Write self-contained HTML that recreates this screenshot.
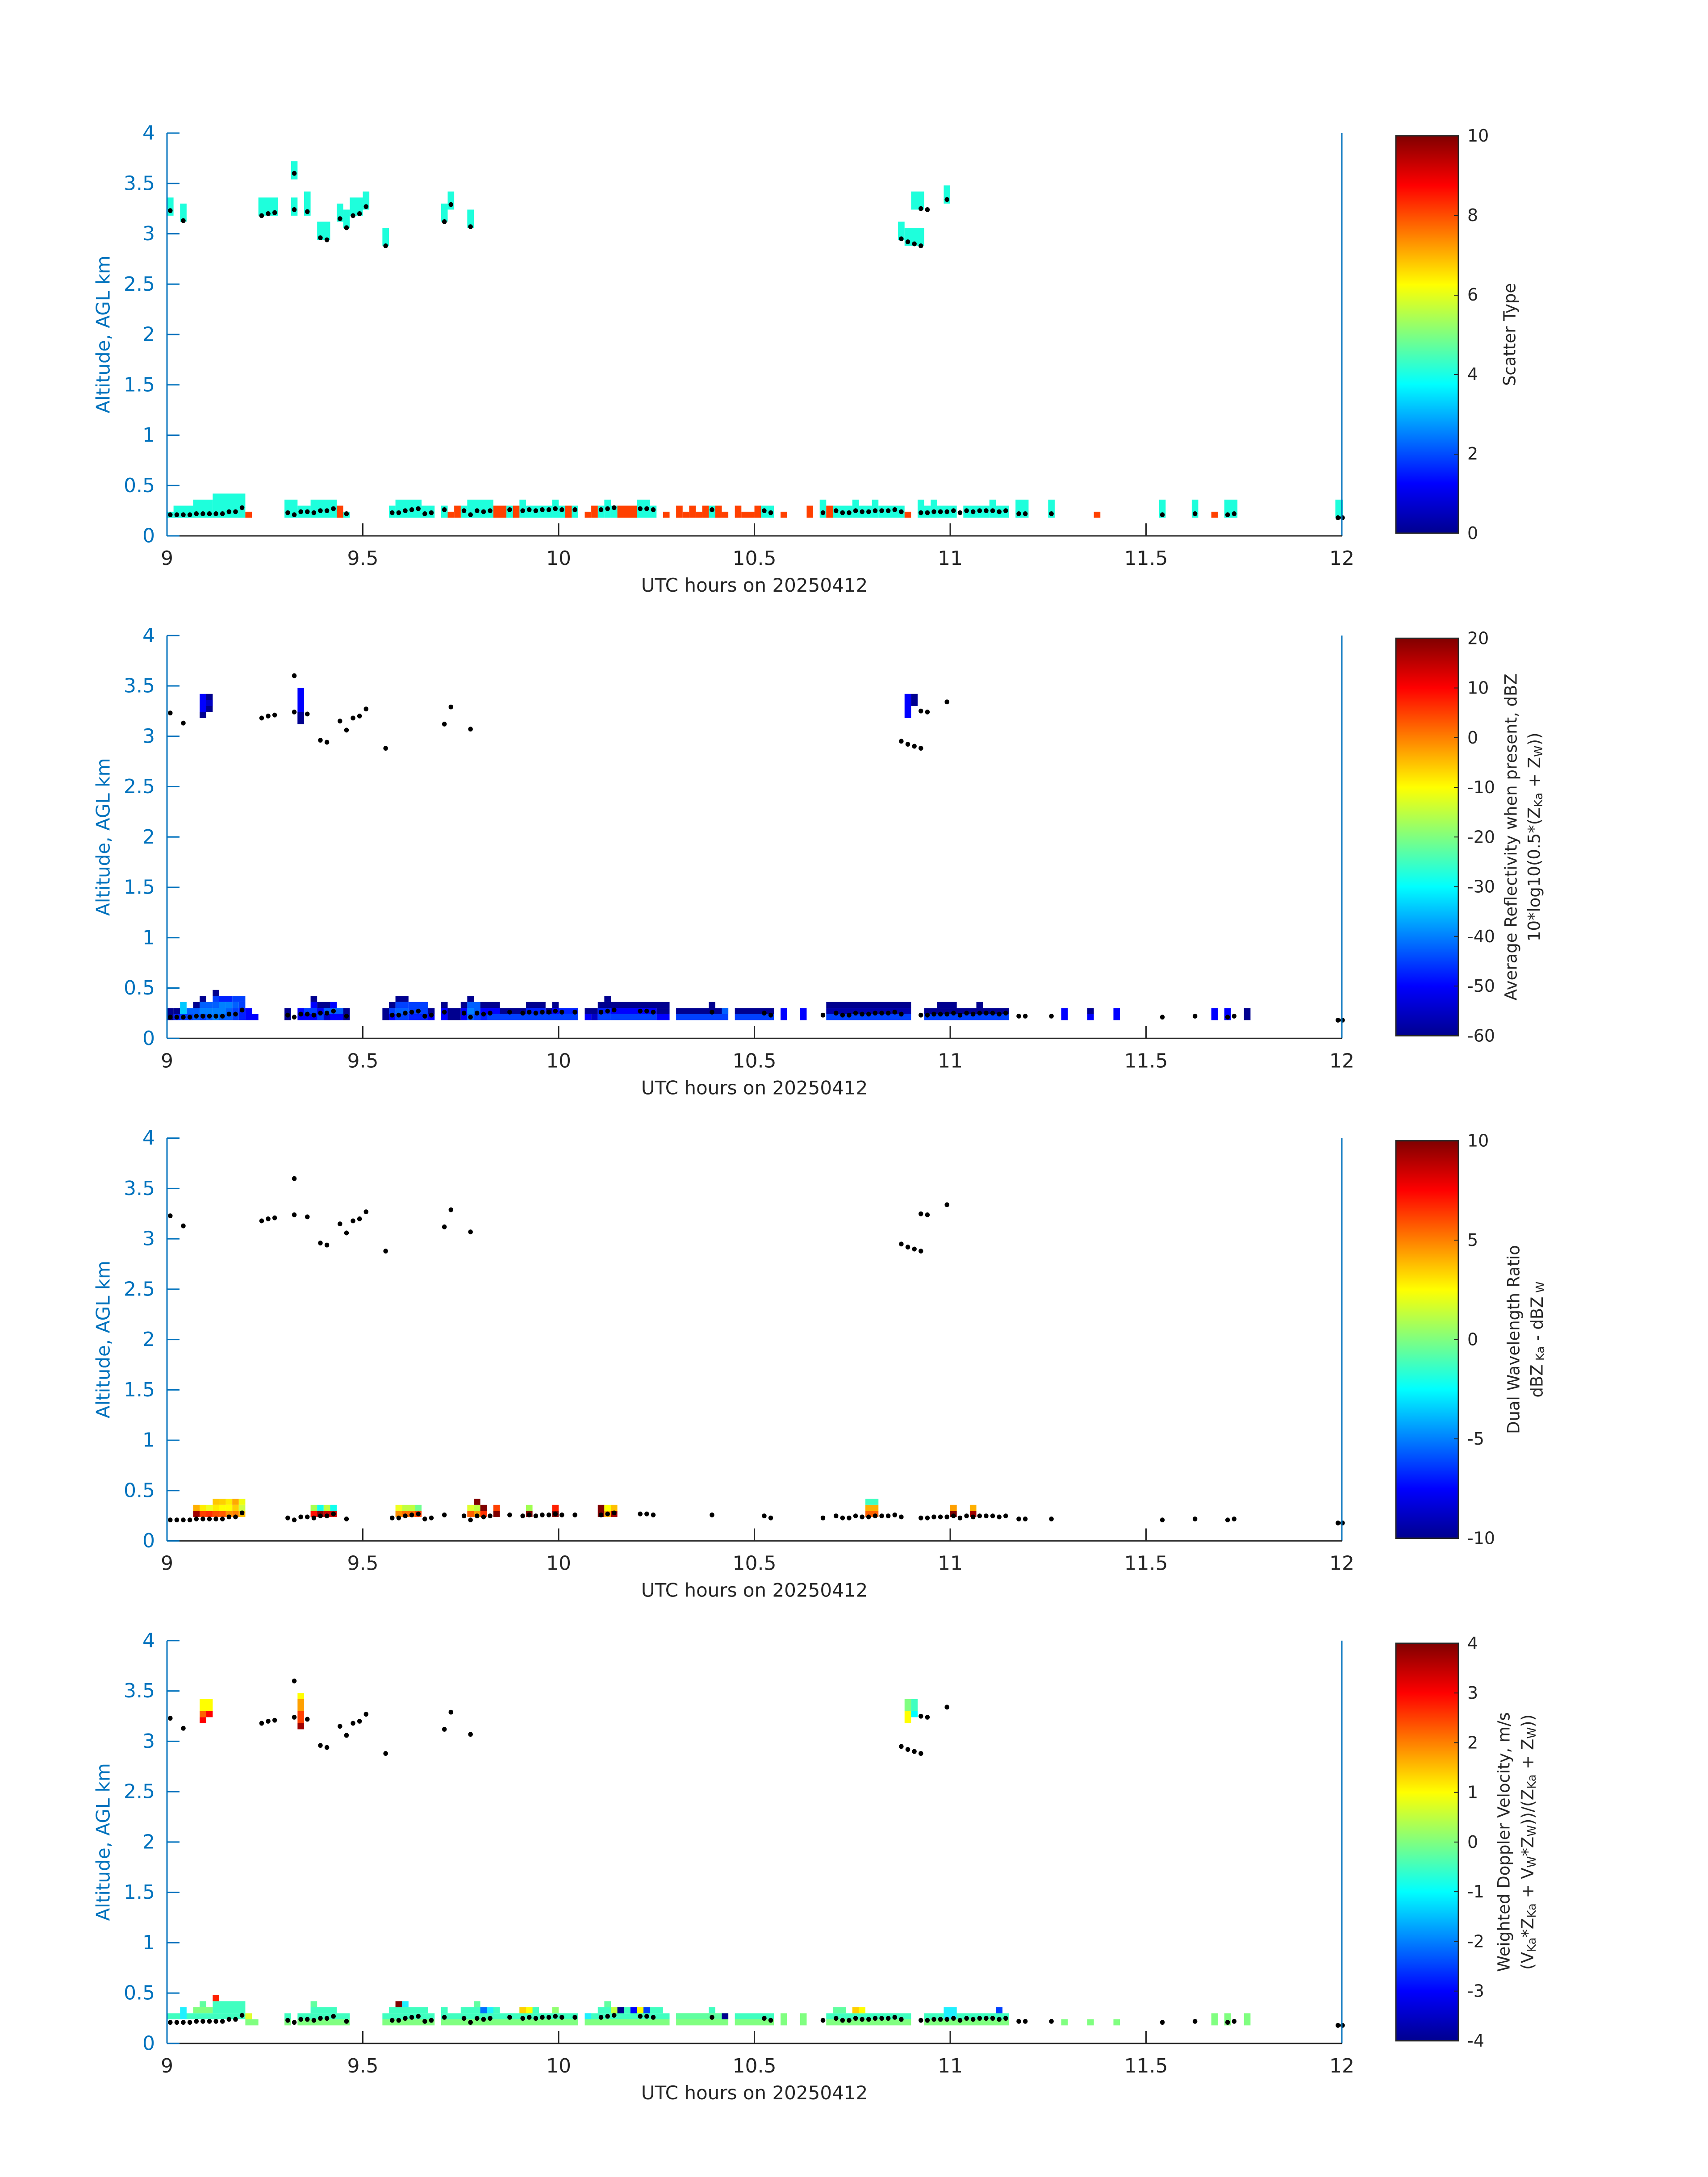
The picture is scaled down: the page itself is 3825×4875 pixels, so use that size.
<!DOCTYPE html>
<html><head><meta charset="utf-8"><style>
html,body{margin:0;padding:0;background:#fff}
svg{display:block}
text{font-family:"DejaVu Sans","Liberation Sans",sans-serif}
.yt{fill:#0072BD;font-size:44px;text-anchor:end;dominant-baseline:central}
.xt{fill:#262626;font-size:44px;text-anchor:middle}
.yl{fill:#0072BD;font-size:42px;text-anchor:middle}
.xl{fill:#262626;font-size:42px;text-anchor:middle}
.ct{fill:#262626;font-size:38px;dominant-baseline:central}
.cl{fill:#262626;font-size:37px;text-anchor:middle;dominant-baseline:central}
ellipse{rx:.36px}
</style></head><body>
<svg width="3825" height="4875" viewBox="0 0 3825 4875" xmlns="http://www.w3.org/2000/svg">
<defs>
<linearGradient id="jet" x1="0" y1="1" x2="0" y2="0">
<stop offset="0" stop-color="#00008f"/><stop offset="0.125" stop-color="#0000ff"/><stop offset="0.375" stop-color="#00ffff"/><stop offset="0.625" stop-color="#ffff00"/><stop offset="0.875" stop-color="#ff0000"/><stop offset="1" stop-color="#800000"/>
</linearGradient>
<g id="dots" fill="#000" transform="scale(1,1)">
<g id="dd">
<ellipse cx="0.5" cy="3.23" rx=".36" ry=".024"/><ellipse cx="2.5" cy="3.13" rx=".36" ry=".024"/><ellipse cx="14.5" cy="3.18" rx=".36" ry=".024"/><ellipse cx="15.5" cy="3.2" rx=".36" ry=".024"/><ellipse cx="16.5" cy="3.21" rx=".36" ry=".024"/><ellipse cx="19.5" cy="3.6" rx=".36" ry=".024"/><ellipse cx="19.5" cy="3.24" rx=".36" ry=".024"/><ellipse cx="21.5" cy="3.22" rx=".36" ry=".024"/><ellipse cx="23.5" cy="2.96" rx=".36" ry=".024"/><ellipse cx="24.5" cy="2.94" rx=".36" ry=".024"/><ellipse cx="26.5" cy="3.15" rx=".36" ry=".024"/><ellipse cx="27.5" cy="3.06" rx=".36" ry=".024"/><ellipse cx="28.5" cy="3.18" rx=".36" ry=".024"/><ellipse cx="29.5" cy="3.2" rx=".36" ry=".024"/><ellipse cx="30.5" cy="3.27" rx=".36" ry=".024"/><ellipse cx="33.5" cy="2.88" rx=".36" ry=".024"/><ellipse cx="42.5" cy="3.12" rx=".36" ry=".024"/><ellipse cx="43.5" cy="3.29" rx=".36" ry=".024"/><ellipse cx="46.5" cy="3.07" rx=".36" ry=".024"/>
<ellipse cx="112.5" cy="2.95" rx=".36" ry=".024"/><ellipse cx="113.5" cy="2.92" rx=".36" ry=".024"/><ellipse cx="114.5" cy="2.9" rx=".36" ry=".024"/><ellipse cx="115.5" cy="2.88" rx=".36" ry=".024"/><ellipse cx="115.5" cy="3.25" rx=".36" ry=".024"/><ellipse cx="116.5" cy="3.24" rx=".36" ry=".024"/><ellipse cx="119.5" cy="3.34" rx=".36" ry=".024"/>
<ellipse cx="0.5" cy=".21" rx=".36" ry=".024"/><ellipse cx="1.5" cy=".21" rx=".36" ry=".024"/><ellipse cx="2.5" cy=".21" rx=".36" ry=".024"/><ellipse cx="3.5" cy=".21" rx=".36" ry=".024"/><ellipse cx="4.5" cy=".22" rx=".36" ry=".024"/><ellipse cx="5.5" cy=".22" rx=".36" ry=".024"/><ellipse cx="6.5" cy=".22" rx=".36" ry=".024"/><ellipse cx="7.5" cy=".22" rx=".36" ry=".024"/><ellipse cx="8.5" cy=".22" rx=".36" ry=".024"/><ellipse cx="9.5" cy=".24" rx=".36" ry=".024"/><ellipse cx="10.5" cy=".24" rx=".36" ry=".024"/><ellipse cx="11.5" cy=".28" rx=".36" ry=".024"/>
<ellipse cx="18.5" cy=".23" rx=".36" ry=".024"/><ellipse cx="19.5" cy=".21" rx=".36" ry=".024"/><ellipse cx="20.5" cy=".24" rx=".36" ry=".024"/><ellipse cx="21.5" cy=".24" rx=".36" ry=".024"/><ellipse cx="22.5" cy=".23" rx=".36" ry=".024"/><ellipse cx="23.5" cy=".25" rx=".36" ry=".024"/><ellipse cx="24.5" cy=".25" rx=".36" ry=".024"/><ellipse cx="25.5" cy=".27" rx=".36" ry=".024"/><ellipse cx="27.5" cy=".22" rx=".36" ry=".024"/>
<ellipse cx="34.5" cy=".23" rx=".36" ry=".024"/><ellipse cx="35.5" cy=".23" rx=".36" ry=".024"/><ellipse cx="36.5" cy=".25" rx=".36" ry=".024"/><ellipse cx="37.5" cy=".26" rx=".36" ry=".024"/><ellipse cx="38.5" cy=".27" rx=".36" ry=".024"/><ellipse cx="39.5" cy=".22" rx=".36" ry=".024"/><ellipse cx="40.5" cy=".23" rx=".36" ry=".024"/>
<ellipse cx="42.5" cy=".26" rx=".36" ry=".024"/><ellipse cx="45.5" cy=".25" rx=".36" ry=".024"/><ellipse cx="46.5" cy=".21" rx=".36" ry=".024"/><ellipse cx="47.5" cy=".25" rx=".36" ry=".024"/><ellipse cx="48.5" cy=".24" rx=".36" ry=".024"/><ellipse cx="49.5" cy=".25" rx=".36" ry=".024"/><ellipse cx="52.5" cy=".26" rx=".36" ry=".024"/><ellipse cx="54.5" cy=".25" rx=".36" ry=".024"/><ellipse cx="55.5" cy=".26" rx=".36" ry=".024"/><ellipse cx="56.5" cy=".25" rx=".36" ry=".024"/><ellipse cx="57.5" cy=".26" rx=".36" ry=".024"/><ellipse cx="58.5" cy=".26" rx=".36" ry=".024"/><ellipse cx="59.5" cy=".27" rx=".36" ry=".024"/><ellipse cx="60.5" cy=".26" rx=".36" ry=".024"/><ellipse cx="62.5" cy=".26" rx=".36" ry=".024"/>
<ellipse cx="66.5" cy=".26" rx=".36" ry=".024"/><ellipse cx="67.5" cy=".27" rx=".36" ry=".024"/><ellipse cx="68.5" cy=".28" rx=".36" ry=".024"/><ellipse cx="72.5" cy=".27" rx=".36" ry=".024"/><ellipse cx="73.5" cy=".27" rx=".36" ry=".024"/><ellipse cx="74.5" cy=".26" rx=".36" ry=".024"/><ellipse cx="83.5" cy=".26" rx=".36" ry=".024"/><ellipse cx="91.5" cy=".25" rx=".36" ry=".024"/><ellipse cx="92.5" cy=".23" rx=".36" ry=".024"/>
<ellipse cx="100.5" cy=".23" rx=".36" ry=".024"/><ellipse cx="102.5" cy=".25" rx=".36" ry=".024"/><ellipse cx="103.5" cy=".23" rx=".36" ry=".024"/><ellipse cx="104.5" cy=".23" rx=".36" ry=".024"/><ellipse cx="105.5" cy=".25" rx=".36" ry=".024"/><ellipse cx="106.5" cy=".24" rx=".36" ry=".024"/><ellipse cx="107.5" cy=".24" rx=".36" ry=".024"/><ellipse cx="108.5" cy=".25" rx=".36" ry=".024"/><ellipse cx="109.5" cy=".25" rx=".36" ry=".024"/><ellipse cx="110.5" cy=".25" rx=".36" ry=".024"/><ellipse cx="111.5" cy=".26" rx=".36" ry=".024"/><ellipse cx="112.5" cy=".24" rx=".36" ry=".024"/>
<ellipse cx="115.5" cy=".23" rx=".36" ry=".024"/><ellipse cx="116.5" cy=".23" rx=".36" ry=".024"/><ellipse cx="117.5" cy=".24" rx=".36" ry=".024"/><ellipse cx="118.5" cy=".24" rx=".36" ry=".024"/><ellipse cx="119.5" cy=".24" rx=".36" ry=".024"/><ellipse cx="120.5" cy=".25" rx=".36" ry=".024"/><ellipse cx="121.5" cy=".23" rx=".36" ry=".024"/><ellipse cx="122.5" cy=".25" rx=".36" ry=".024"/><ellipse cx="123.5" cy=".24" rx=".36" ry=".024"/><ellipse cx="124.5" cy=".25" rx=".36" ry=".024"/><ellipse cx="125.5" cy=".25" rx=".36" ry=".024"/><ellipse cx="126.5" cy=".25" rx=".36" ry=".024"/><ellipse cx="127.5" cy=".24" rx=".36" ry=".024"/><ellipse cx="128.5" cy=".25" rx=".36" ry=".024"/>
<ellipse cx="130.5" cy=".22" rx=".36" ry=".024"/><ellipse cx="131.5" cy=".22" rx=".36" ry=".024"/><ellipse cx="135.5" cy=".22" rx=".36" ry=".024"/><ellipse cx="152.5" cy=".21" rx=".36" ry=".024"/><ellipse cx="157.5" cy=".22" rx=".36" ry=".024"/><ellipse cx="162.5" cy=".21" rx=".36" ry=".024"/><ellipse cx="163.5" cy=".22" rx=".36" ry=".024"/><ellipse cx="179.4" cy=".18" rx=".36" ry=".024"/><ellipse cx="180.1" cy=".18" rx=".36" ry=".024"/>
</g>
</g>
<g id="frame">
<line x1="374" y1="0" x2="374" y2="902" stroke="#0072BD" stroke-width="3"/>
<line x1="3005" y1="0" x2="3005" y2="902" stroke="#0072BD" stroke-width="3"/>
<line x1="374" y1="902" x2="3005" y2="902" stroke="#262626" stroke-width="3"/>
<g stroke="#0072BD" stroke-width="3">
<line x1="374" y1="0" x2="402" y2="0"/><line x1="374" y1="112.75" x2="402" y2="112.75"/><line x1="374" y1="225.5" x2="402" y2="225.5"/><line x1="374" y1="338.25" x2="402" y2="338.25"/><line x1="374" y1="451" x2="402" y2="451"/><line x1="374" y1="563.75" x2="402" y2="563.75"/><line x1="374" y1="676.5" x2="402" y2="676.5"/><line x1="374" y1="789.25" x2="402" y2="789.25"/><line x1="374" y1="902" x2="402" y2="902"/>
</g>
<g stroke="#262626" stroke-width="3">
<line x1="812.5" y1="902" x2="812.5" y2="874"/><line x1="1251" y1="902" x2="1251" y2="874"/><line x1="1689.5" y1="902" x2="1689.5" y2="874"/><line x1="2128" y1="902" x2="2128" y2="874"/><line x1="2566.5" y1="902" x2="2566.5" y2="874"/>
</g>
<text class="yt" x="347" y="0">4</text><text class="yt" x="347" y="112.75">3.5</text><text class="yt" x="347" y="225.5">3</text><text class="yt" x="347" y="338.25">2.5</text><text class="yt" x="347" y="451">2</text><text class="yt" x="347" y="563.75">1.5</text><text class="yt" x="347" y="676.5">1</text><text class="yt" x="347" y="789.25">0.5</text><text class="yt" x="347" y="902">0</text>
<text class="xt" x="374" y="967">9</text><text class="xt" x="812.5" y="967">9.5</text><text class="xt" x="1251" y="967">10</text><text class="xt" x="1689.5" y="967">10.5</text><text class="xt" x="2128" y="967">11</text><text class="xt" x="2566.5" y="967">11.5</text><text class="xt" x="3005" y="967">12</text>
<text class="xl" x="1689.5" y="1027">UTC hours on 20250412</text>
<text class="yl" transform="translate(231,451) rotate(-90)" dominant-baseline="central">Altitude, AGL km</text>
<rect x="3126" y="6" width="140" height="890" fill="url(#jet)" stroke="#262626" stroke-width="3"/>
</g>
</defs>

<!-- ============ PANEL 1 ============ -->
<g transform="translate(374,1200) scale(14.617,-225.5)">
<g fill="#1effdc">
<rect x="0" y="3.18" width="1" height=".18"/><rect x="2" y="3.12" width="1" height=".18"/><rect x="14" y="3.18" width="3" height=".18"/><rect x="19" y="3.54" width="1" height=".18"/><rect x="19" y="3.18" width="1" height=".18"/><rect x="21" y="3.18" width="1" height=".24"/><rect x="23" y="2.94" width="2" height=".18"/><rect x="26" y="3.12" width="1" height=".18"/><rect x="27" y="3.06" width="1" height=".18"/><rect x="28" y="3.18" width="2" height=".18"/><rect x="30" y="3.24" width="1" height=".18"/><rect x="33" y="2.88" width="1" height=".18"/><rect x="42" y="3.12" width="1" height=".18"/><rect x="43" y="3.24" width="1" height=".18"/><rect x="46" y="3.06" width="1" height=".18"/>
<rect x="112" y="2.94" width="1" height=".18"/><rect x="113" y="2.88" width="3" height=".18"/><rect x="114" y="3.24" width="2" height=".18"/><rect x="119" y="3.3" width="1" height=".18"/>
<rect x="0" y=".18" width="1" height=".06"/><rect x="1" y=".18" width="3" height=".12"/><rect x="4" y=".18" width="3" height=".18"/><rect x="7" y=".18" width="5" height=".24"/>
<rect x="18" y=".18" width="2" height=".18"/><rect x="20" y=".18" width="2" height=".12"/><rect x="22" y=".18" width="4" height=".18"/><rect x="27" y=".18" width="1" height=".06"/>
<rect x="34" y=".18" width="1" height=".12"/><rect x="35" y=".18" width="4" height=".18"/><rect x="39" y=".18" width="2" height=".12"/>
<rect x="42" y=".18" width="1" height=".12"/><rect x="45" y=".18" width="1" height=".12"/><rect x="46" y=".18" width="4" height=".18"/><rect x="52" y=".18" width="1" height=".12"/><rect x="54" y=".18" width="1" height=".18"/><rect x="55" y=".18" width="4" height=".12"/><rect x="59" y=".18" width="1" height=".18"/><rect x="60" y=".18" width="1" height=".12"/><rect x="62" y=".18" width="1" height=".12"/>
<rect x="66" y=".18" width="1" height=".12"/><rect x="67" y=".18" width="1" height=".18"/><rect x="68" y=".18" width="1" height=".12"/><rect x="72" y=".18" width="2" height=".18"/><rect x="74" y=".18" width="1" height=".12"/><rect x="83" y=".18" width="1" height=".12"/><rect x="91" y=".18" width="2" height=".12"/>
<rect x="100" y=".18" width="1" height=".18"/><rect x="102" y=".18" width="3" height=".12"/><rect x="105" y=".18" width="1" height=".18"/><rect x="106" y=".18" width="2" height=".12"/><rect x="108" y=".18" width="1" height=".18"/><rect x="109" y=".18" width="4" height=".12"/>
<rect x="115" y=".18" width="1" height=".18"/><rect x="116" y=".18" width="1" height=".12"/><rect x="117" y=".18" width="1" height=".18"/><rect x="118" y=".18" width="3" height=".12"/><rect x="122" y=".18" width="4" height=".12"/><rect x="126" y=".18" width="1" height=".18"/><rect x="127" y=".18" width="2" height=".12"/><rect x="130" y=".18" width="2" height=".18"/><rect x="135" y=".18" width="1" height=".18"/><rect x="152" y=".18" width="1" height=".18"/><rect x="157" y=".18" width="1" height=".18"/><rect x="162" y=".18" width="2" height=".18"/><rect x="179" y=".18" width="1.2" height=".18"/>
</g>
<g fill="#ff4000">
<rect x="12" y=".18" width="1" height=".06"/><rect x="26" y=".18" width="1" height=".12"/><rect x="43" y=".18" width="1" height=".06"/><rect x="44" y=".18" width="1" height=".12"/><rect x="50" y=".18" width="2" height=".12"/><rect x="53" y=".18" width="1" height=".12"/><rect x="61" y=".18" width="1" height=".12"/><rect x="64" y=".18" width="1" height=".06"/><rect x="65" y=".18" width="1" height=".12"/><rect x="69" y=".18" width="3" height=".12"/><rect x="76" y=".18" width="1" height=".06"/><rect x="78" y=".18" width="1" height=".12"/><rect x="79" y=".18" width="1" height=".06"/><rect x="80" y=".18" width="1" height=".12"/><rect x="81" y=".18" width="1" height=".06"/><rect x="82" y=".18" width="1" height=".12"/><rect x="84" y=".18" width="1" height=".12"/><rect x="85" y=".18" width="1" height=".06"/><rect x="87" y=".18" width="1" height=".12"/><rect x="88" y=".18" width="2" height=".06"/><rect x="90" y=".18" width="1" height=".12"/><rect x="94" y=".18" width="1" height=".06"/><rect x="98" y=".18" width="1" height=".12"/><rect x="101" y=".18" width="1" height=".12"/><rect x="113" y=".18" width="1" height=".06"/><rect x="142" y=".18" width="1" height=".06"/><rect x="160" y=".18" width="1" height=".06"/>
</g>
<use href="#dots"/>
</g>
<g transform="translate(0,298)"><use href="#frame"/>
<g stroke="#262626" stroke-width="2"><line x1="3256" y1="185" x2="3266" y2="185"/><line x1="3256" y1="363" x2="3266" y2="363"/><line x1="3256" y1="541" x2="3266" y2="541"/><line x1="3256" y1="719" x2="3266" y2="719"/></g>
<text class="ct" x="3286" y="6">10</text><text class="ct" x="3286" y="184">8</text><text class="ct" x="3286" y="362">6</text><text class="ct" x="3286" y="540">4</text><text class="ct" x="3286" y="718">2</text><text class="ct" x="3286" y="896">0</text>
<text class="cl" transform="translate(3381,451) rotate(-90)">Scatter Type</text>
</g>

<!-- ============ PANEL 2 ============ -->
<g transform="translate(374,2325) scale(14.617,-225.5)">
<g fill="#0000ff"><rect x="5" y="3.18" width="1" height=".24"/><rect x="20" y="3.12" width="1" height=".36"/><rect x="113" y="3.18" width="1" height=".24"/></g>
<g fill="#00008f"><rect x="5" y="3.18" width="1" height=".06"/><rect x="6" y="3.24" width="1" height=".18"/><rect x="20" y="3.12" width="1" height=".12"/><rect x="114" y="3.3" width="1" height=".12"/></g>
<rect x="6" y="3.3" width="1" height=".06" fill="#0000c8"/>
<g fill="#00008f"><rect x="0" y=".18" width="1" height=".12"/><rect x="1" y=".24" width="1" height=".06"/><rect x="4" y=".30" width="1" height=".06"/><rect x="5" y=".36" width="1" height=".06"/><rect x="7" y=".42" width="1" height=".06"/><rect x="18" y=".18" width="1" height=".12"/><rect x="22" y=".36" width="1" height=".06"/><rect x="23" y=".30" width="2" height=".06"/><rect x="27" y=".18" width="1" height=".12"/><rect x="33" y=".18" width="1" height=".12"/><rect x="34" y=".30" width="1" height=".06"/><rect x="35" y=".36" width="2" height=".06"/><rect x="40" y=".24" width="1" height=".06"/><rect x="42" y=".30" width="1" height=".06"/><rect x="43" y=".18" width="2" height=".12"/><rect x="45" y=".30" width="1" height=".06"/><rect x="46" y=".36" width="1" height=".06"/><rect x="48" y=".30" width="3" height=".06"/><rect x="51" y=".24" width="4" height=".06"/><rect x="55" y=".30" width="3" height=".06"/><rect x="58" y=".24" width="1" height=".06"/><rect x="59" y=".30" width="1" height=".06"/><rect x="64" y=".24" width="2" height=".06"/><rect x="66" y=".30" width="11" height=".06"/><rect x="67" y=".36" width="1" height=".06"/><rect x="75" y=".24" width="2" height=".06"/><rect x="78" y=".24" width="8" height=".06"/><rect x="83" y=".30" width="1" height=".06"/><rect x="87" y=".24" width="6" height=".06"/><rect x="101" y=".30" width="13" height=".06"/><rect x="116" y=".24" width="13" height=".06"/><rect x="118" y=".30" width="3" height=".06"/><rect x="124" y=".30" width="1" height=".06"/><rect x="165" y=".18" width="1" height=".12"/><rect x="141" y=".24" width="1" height=".06"/></g>
<g fill="#0000ff"><rect x="12" y=".18" width="1" height=".12"/><rect x="13" y=".18" width="1" height=".06"/><rect x="20" y=".18" width="6" height=".12"/><rect x="22" y=".30" width="1" height=".06"/><rect x="25" y=".30" width="1" height=".06"/><rect x="26" y=".18" width="1" height=".12"/><rect x="34" y=".18" width="1" height=".06"/><rect x="40" y=".18" width="1" height=".06"/><rect x="42" y=".18" width="1" height=".12"/><rect x="45" y=".18" width="1" height=".12"/><rect x="48" y=".24" width="3" height=".06"/><rect x="59" y=".24" width="1" height=".06"/><rect x="64" y=".18" width="1" height=".06"/><rect x="68" y=".24" width="7" height=".06"/><rect x="75" y=".18" width="2" height=".06"/><rect x="94" y=".18" width="1" height=".12"/><rect x="97" y=".18" width="1" height=".12"/><rect x="137" y=".18" width="1" height=".12"/><rect x="141" y=".18" width="1" height=".06"/><rect x="145" y=".18" width="1" height=".12"/><rect x="160" y=".18" width="1" height=".12"/><rect x="162" y=".18" width="1" height=".12"/></g>
<rect x="101" y=".24" width="13" height=".06" fill="#0000a8"/>
<g fill="#0000c8"><rect x="65" y=".18" width="1" height=".06"/><rect x="24" y=".18" width="1" height=".06"/></g>
<g fill="#0020ff"><rect x="1" y=".18" width="1" height=".06"/><rect x="11" y=".18" width="1" height=".12"/><rect x="8" y=".36" width="2" height=".06"/><rect x="37" y=".18" width="3" height=".06"/><rect x="48" y=".18" width="1" height=".06"/><rect x="55" y=".24" width="3" height=".06"/><rect x="60" y=".24" width="3" height=".06"/><rect x="66" y=".24" width="2" height=".06"/></g>
<g fill="#0040ff"><rect x="2" y=".18" width="2" height=".06"/><rect x="5" y=".18" width="1" height=".06"/><rect x="10" y=".18" width="1" height=".12"/><rect x="10" y=".36" width="2" height=".06"/><rect x="11" y=".30" width="1" height=".06"/><rect x="7" y=".36" width="1" height=".06"/><rect x="21" y=".24" width="2" height=".06"/><rect x="23" y=".18" width="1" height=".06"/><rect x="34" y=".24" width="1" height=".06"/><rect x="35" y=".18" width="2" height=".06"/><rect x="35" y=".30" width="2" height=".06"/><rect x="37" y=".24" width="3" height=".12"/><rect x="47" y=".18" width="1" height=".06"/><rect x="49" y=".18" width="14" height=".06"/><rect x="66" y=".18" width="2" height=".06"/><rect x="68" y=".18" width="7" height=".06"/><rect x="78" y=".18" width="8" height=".06"/><rect x="87" y=".18" width="6" height=".06"/><rect x="101" y=".18" width="13" height=".06"/><rect x="116" y=".18" width="13" height=".06"/></g>
<g fill="#0060ff"><rect x="3" y=".24" width="1" height=".06"/><rect x="4" y=".18" width="1" height=".12"/><rect x="6" y=".18" width="1" height=".06"/><rect x="6" y=".30" width="1" height=".06"/><rect x="5" y=".30" width="1" height=".06"/><rect x="7" y=".30" width="1" height=".06"/><rect x="8" y=".18" width="2" height=".06"/><rect x="9" y=".24" width="1" height=".06"/><rect x="10" y=".30" width="1" height=".06"/><rect x="24" y=".24" width="2" height=".06"/><rect x="26" y=".24" width="1" height=".06"/><rect x="35" y=".24" width="2" height=".06"/><rect x="46" y=".18" width="1" height=".06"/><rect x="46" y=".30" width="1" height=".06"/><rect x="47" y=".24" width="1" height=".12"/><rect x="85" y=".24" width="1" height=".06"/></g>
<g fill="#0080ff"><rect x="5" y=".24" width="1" height=".06"/><rect x="6" y=".24" width="1" height=".06"/><rect x="7" y=".18" width="1" height=".12"/><rect x="8" y=".24" width="1" height=".12"/><rect x="9" y=".30" width="1" height=".06"/><rect x="46" y=".24" width="1" height=".06"/></g>
<rect x="2" y=".24" width="1" height=".12" fill="#00c8ff"/>
<use href="#dots"/>
</g>
<g transform="translate(0,1423.3)"><use href="#frame"/>
<g stroke="#262626" stroke-width="2"><line x1="3256" y1="117.25" x2="3266" y2="117.25"/><line x1="3256" y1="228.5" x2="3266" y2="228.5"/><line x1="3256" y1="339.75" x2="3266" y2="339.75"/><line x1="3256" y1="451" x2="3266" y2="451"/><line x1="3256" y1="562.25" x2="3266" y2="562.25"/><line x1="3256" y1="673.5" x2="3266" y2="673.5"/><line x1="3256" y1="784.75" x2="3266" y2="784.75"/></g>
<text class="ct" x="3286" y="6">20</text><text class="ct" x="3286" y="117.25">10</text><text class="ct" x="3286" y="228.5">0</text><text class="ct" x="3286" y="339.75">-10</text><text class="ct" x="3286" y="451">-20</text><text class="ct" x="3286" y="562.25">-30</text><text class="ct" x="3286" y="673.5">-40</text><text class="ct" x="3286" y="784.75">-50</text><text class="ct" x="3286" y="896">-60</text>
<text class="cl" transform="translate(3384,451) rotate(-90)">Average Reflectivity when present, dBZ</text>
<text class="cl" transform="translate(3436,451) rotate(-90)">10*log10(0.5*(Z<tspan font-size="26" dy="10">Ka</tspan><tspan dy="-10"> + Z</tspan><tspan font-size="26" dy="10">W</tspan><tspan dy="-10">))</tspan></text>
</g>

<!-- ============ PANEL 3 ============ -->
<g transform="translate(374,3451) scale(14.617,-225.5)">
<rect x="4" y=".24" width="1" height=".06" fill="#a00000"/><rect x="4" y=".30" width="1" height=".06" fill="#ffb000"/>
<rect x="5" y=".24" width="1" height=".06" fill="#ff4000"/><rect x="5" y=".30" width="1" height=".06" fill="#ffee00"/>
<rect x="6" y=".24" width="1" height=".06" fill="#ff3000"/><rect x="6" y=".30" width="1" height=".06" fill="#f0ff20"/>
<rect x="7" y=".24" width="1" height=".06" fill="#ff5000"/><rect x="7" y=".30" width="1" height=".06" fill="#ffee00"/><rect x="7" y=".36" width="1" height=".06" fill="#ffc800"/>
<rect x="8" y=".24" width="1" height=".06" fill="#ff5a00"/><rect x="8" y=".30" width="1" height=".06" fill="#ffff00"/><rect x="8" y=".36" width="1" height=".06" fill="#ffd000"/>
<rect x="9" y=".24" width="1" height=".06" fill="#ff9000"/><rect x="9" y=".30" width="1" height=".06" fill="#ffff00"/><rect x="9" y=".36" width="1" height=".06" fill="#ffee00"/>
<rect x="10" y=".24" width="1" height=".06" fill="#ff8000"/><rect x="10" y=".30" width="1" height=".06" fill="#ffd000"/><rect x="10" y=".36" width="1" height=".06" fill="#ffaa00"/>
<rect x="11" y=".24" width="1" height=".06" fill="#ffc000"/><rect x="11" y=".30" width="1" height=".06" fill="#d0ff40"/><rect x="11" y=".36" width="1" height=".06" fill="#eeff10"/>
<rect x="22" y=".24" width="1" height=".06" fill="#ff1000"/><rect x="22" y=".30" width="1" height=".06" fill="#a8ff50"/>
<rect x="23" y=".24" width="1" height=".06" fill="#900000"/><rect x="23" y=".30" width="1" height=".06" fill="#10ffee"/>
<rect x="24" y=".24" width="1" height=".06" fill="#d00000"/><rect x="24" y=".30" width="1" height=".06" fill="#c0ff40"/>
<rect x="25" y=".24" width="1" height=".06" fill="#d00000"/><rect x="25" y=".30" width="1" height=".06" fill="#10ffee"/>
<rect x="35" y=".24" width="1" height=".06" fill="#ff9000"/><rect x="35" y=".30" width="1" height=".06" fill="#f0ff20"/>
<rect x="36" y=".24" width="2" height=".06" fill="#ff7000"/><rect x="36" y=".30" width="2" height=".06" fill="#c0ff40"/>
<rect x="38" y=".24" width="1" height=".06" fill="#ff4000"/><rect x="38" y=".30" width="1" height=".06" fill="#70ff90"/>
<rect x="46" y=".24" width="1" height=".06" fill="#ff6000"/><rect x="46" y=".30" width="1" height=".06" fill="#e0ff30"/>
<rect x="47" y=".24" width="1" height=".06" fill="#ffa000"/><rect x="47" y=".30" width="1" height=".06" fill="#c0ff40"/><rect x="47" y=".36" width="1" height=".06" fill="#800000"/>
<rect x="48" y=".24" width="1" height=".06" fill="#ff3000"/><rect x="48" y=".30" width="1" height=".06" fill="#800000"/>
<rect x="50" y=".24" width="1" height=".06" fill="#800000"/><rect x="50" y=".30" width="1" height=".06" fill="#ff4000"/>
<rect x="55" y=".24" width="1" height=".06" fill="#800000"/><rect x="55" y=".30" width="1" height=".06" fill="#a0ff50"/>
<rect x="59" y=".24" width="1" height=".06" fill="#800000"/><rect x="59" y=".30" width="1" height=".06" fill="#ff2000"/>
<rect x="66" y=".24" width="1" height=".12" fill="#800000"/>
<rect x="67" y=".24" width="1" height=".06" fill="#ffb000"/><rect x="67" y=".30" width="1" height=".06" fill="#ffff00"/>
<rect x="68" y=".24" width="1" height=".06" fill="#a00000"/><rect x="68" y=".30" width="1" height=".06" fill="#ffc000"/>
<rect x="107" y=".24" width="2" height=".06" fill="#ff6000"/><rect x="107" y=".30" width="2" height=".06" fill="#ffb000"/><rect x="107" y=".36" width="2" height=".06" fill="#40ffc0"/>
<rect x="120" y=".24" width="1" height=".06" fill="#800000"/><rect x="120" y=".30" width="1" height=".06" fill="#ffa000"/>
<rect x="123" y=".24" width="1" height=".06" fill="#a00000"/><rect x="123" y=".30" width="1" height=".06" fill="#ffb000"/>
<use href="#dots"/>
</g>
<g transform="translate(0,2548.6)"><use href="#frame"/>
<g stroke="#262626" stroke-width="2"><line x1="3256" y1="228.5" x2="3266" y2="228.5"/><line x1="3256" y1="451" x2="3266" y2="451"/><line x1="3256" y1="673.5" x2="3266" y2="673.5"/></g>
<text class="ct" x="3286" y="6">10</text><text class="ct" x="3286" y="228.5">5</text><text class="ct" x="3286" y="451">0</text><text class="ct" x="3286" y="673.5">-5</text><text class="ct" x="3286" y="896">-10</text>
<text class="cl" transform="translate(3390,451) rotate(-90)">Dual Wavelength Ratio</text>
<text class="cl" transform="translate(3442,451) rotate(-90)">dBZ<tspan font-size="26" dy="8"> Ka</tspan><tspan dy="-8"> - dBZ</tspan><tspan font-size="26" dy="8"> W</tspan></text>
</g>

<!-- ============ PANEL 4 ============ -->
<g transform="translate(374,4576) scale(14.617,-225.5)">
<rect x="5" y="3.30" width="2" height=".12" fill="#ffff00"/><rect x="5" y="3.24" width="1" height=".06" fill="#ff6000"/><rect x="6" y="3.24" width="1" height=".06" fill="#ff0000"/><rect x="5" y="3.18" width="1" height=".06" fill="#ff0000"/>
<rect x="20" y="3.42" width="1" height=".06" fill="#ffff00"/><rect x="20" y="3.30" width="1" height=".12" fill="#ffa000"/><rect x="20" y="3.18" width="1" height=".12" fill="#ff4000"/><rect x="20" y="3.12" width="1" height=".06" fill="#a00000"/>
<rect x="113" y="3.18" width="1" height=".12" fill="#ffff00"/><rect x="113" y="3.30" width="1" height=".12" fill="#80ff80"/><rect x="114" y="3.30" width="1" height=".12" fill="#40ffc0"/><rect x="114" y="3.24" width="1" height=".06" fill="#00ffff"/>
<g fill="#80ff80"><rect x="12" y=".18" width="2" height=".06"/><rect x="18" y=".18" width="1" height=".06"/><rect x="20" y=".18" width="8" height=".06"/><rect x="33" y=".18" width="8" height=".06"/><rect x="42" y=".18" width="21" height=".06"/><rect x="64" y=".18" width="13" height=".06"/><rect x="78" y=".18" width="8" height=".12"/><rect x="87" y=".18" width="6" height=".06"/><rect x="94" y=".18" width="1" height=".12"/><rect x="97" y=".18" width="1" height=".12"/><rect x="101" y=".18" width="13" height=".06"/><rect x="116" y=".18" width="13" height=".06"/><rect x="137" y=".18" width="1" height=".06"/><rect x="141" y=".18" width="1" height=".06"/><rect x="145" y=".18" width="1" height=".06"/><rect x="160" y=".18" width="1" height=".12"/><rect x="162" y=".18" width="1" height=".12"/><rect x="165" y=".18" width="1" height=".12"/><rect x="4" y=".30" width="3" height=".06"/></g>
<g fill="#40ffc0"><rect x="0" y=".24" width="12" height=".06"/><rect x="7" y=".30" width="5" height=".12"/><rect x="18" y=".24" width="1" height=".06"/><rect x="20" y=".24" width="8" height=".06"/><rect x="22" y=".30" width="4" height=".06"/><rect x="33" y=".24" width="8" height=".06"/><rect x="34" y=".30" width="6" height=".06"/><rect x="42" y=".24" width="21" height=".06"/><rect x="42" y=".30" width="1" height=".06"/><rect x="45" y=".30" width="6" height=".06"/><rect x="54" y=".30" width="3" height=".06"/><rect x="64" y=".24" width="13" height=".06"/><rect x="66" y=".30" width="10" height=".06"/><rect x="83" y=".30" width="1" height=".06"/><rect x="87" y=".24" width="6" height=".06"/><rect x="101" y=".24" width="13" height=".06"/><rect x="116" y=".24" width="13" height=".06"/></g>
<g fill="#60ffa0"><rect x="5" y=".36" width="1" height=".06"/><rect x="22" y=".36" width="1" height=".06"/><rect x="47" y=".36" width="1" height=".06"/><rect x="67" y=".36" width="1" height=".06"/><rect x="78" y=".24" width="8" height=".06"/><rect x="102" y=".30" width="2" height=".06"/></g>
<g fill="#20f0ff"><rect x="2" y=".24" width="1" height=".12"/><rect x="64" y=".24" width="1" height=".06"/><rect x="49" y=".30" width="1" height=".06"/><rect x="36" y=".36" width="1" height=".06"/><rect x="119" y=".24" width="2" height=".12"/></g>
<rect x="7" y=".42" width="1" height=".06" fill="#ff2000"/>
<rect x="12" y=".24" width="1" height=".06" fill="#e0ff30"/>
<rect x="35" y=".36" width="1" height=".06" fill="#800000"/>
<rect x="48" y=".30" width="1" height=".06" fill="#0070ff"/>
<rect x="54" y=".30" width="1" height=".06" fill="#ffd000"/><rect x="55" y=".30" width="1" height=".06" fill="#ffff00"/>
<rect x="59" y=".30" width="1" height=".06" fill="#90ff70"/>
<rect x="68" y=".30" width="1" height=".06" fill="#c0ff40"/><rect x="69" y=".30" width="1" height=".06" fill="#000090"/><rect x="71" y=".30" width="1" height=".06" fill="#0000ff"/><rect x="72" y=".30" width="1" height=".06" fill="#ffff00"/><rect x="73" y=".30" width="1" height=".06" fill="#0040ff"/>
<rect x="85" y=".24" width="1" height=".06" fill="#000090"/>
<rect x="105" y=".30" width="1" height=".06" fill="#ffd000"/><rect x="106" y=".30" width="1" height=".06" fill="#ffff00"/>
<rect x="127" y=".30" width="1" height=".06" fill="#0040ff"/>
<use href="#dots"/>
</g>
<g transform="translate(0,3673.9)"><use href="#frame"/>
<g stroke="#262626" stroke-width="2"><line x1="3256" y1="117.25" x2="3266" y2="117.25"/><line x1="3256" y1="228.5" x2="3266" y2="228.5"/><line x1="3256" y1="339.75" x2="3266" y2="339.75"/><line x1="3256" y1="451" x2="3266" y2="451"/><line x1="3256" y1="562.25" x2="3266" y2="562.25"/><line x1="3256" y1="673.5" x2="3266" y2="673.5"/><line x1="3256" y1="784.75" x2="3266" y2="784.75"/></g>
<text class="ct" x="3286" y="6">4</text><text class="ct" x="3286" y="117.25">3</text><text class="ct" x="3286" y="228.5">2</text><text class="ct" x="3286" y="339.75">1</text><text class="ct" x="3286" y="451">0</text><text class="ct" x="3286" y="562.25">-1</text><text class="ct" x="3286" y="673.5">-2</text><text class="ct" x="3286" y="784.75">-3</text><text class="ct" x="3286" y="896">-4</text>
<text class="cl" transform="translate(3368,451) rotate(-90)">Weighted Doppler Velocity, m/s</text>
<text class="cl" transform="translate(3421,451) rotate(-90)">(V<tspan font-size="26" dy="10">Ka</tspan><tspan dy="-10">*Z</tspan><tspan font-size="26" dy="10">Ka</tspan><tspan dy="-10"> + V</tspan><tspan font-size="26" dy="10">W</tspan><tspan dy="-10">*Z</tspan><tspan font-size="26" dy="10">W</tspan><tspan dy="-10">))/(Z</tspan><tspan font-size="26" dy="10">Ka</tspan><tspan dy="-10"> + Z</tspan><tspan font-size="26" dy="10">W</tspan><tspan dy="-10">))</tspan></text>
</g>
</svg>
</body></html>
